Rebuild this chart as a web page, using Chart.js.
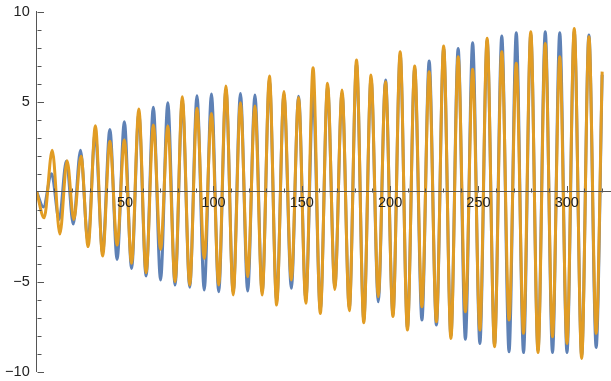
<!DOCTYPE html>
<html>
<head>
<meta charset="utf-8">
<script src="https://cdn.jsdelivr.net/npm/chart.js@4/dist/chart.umd.min.js"></script>
<style>
  html, body { margin: 0; padding: 0; background: #ffffff; }
  #c { display: block; }
</style>
</head>
<body>
<canvas id="c" width="611" height="381"></canvas>
<script>
// ---- values (extrema of each curve) ----
const blueX = [0, 3.8, 8.4, 12.7, 16.8, 20.7, 24.8, 29.0, 33.1, 37.3, 41.4, 45.5, 49.6, 53.7, 57.8, 61.9, 66.0, 70.1, 74.2, 78.3, 82.4, 86.6, 90.7, 94.8, 98.9, 103.0, 107.1, 111.2, 115.3, 119.4, 123.5, 127.6, 131.7, 135.8, 139.9, 144.1, 148.2, 152.3, 156.4, 160.5, 164.6, 168.7, 172.8, 176.9, 181.0, 185.1, 189.2, 193.3, 197.4, 201.6, 205.7, 209.8, 213.9, 218.0, 222.1, 226.2, 230.3, 234.4, 238.5, 242.6, 246.7, 250.8, 254.9, 259.1, 263.2, 267.3, 271.4, 275.5, 279.6, 283.7, 287.8, 291.9, 296.0, 300.1, 304.2, 308.4, 312.5, 316.6, 320.0];
const blueY = [0, -0.85, 1.00, -1.55, 1.70, -1.80, 2.30, -2.80, 3.25, -3.40, 3.46, -3.76, 3.89, -4.26, 4.35, -4.69, 4.69, -4.91, 4.94, -5.19, 5.05, -5.31, 5.33, -5.46, 5.43, -5.56, 5.70, -5.60, 5.46, -5.52, 5.37, -5.60, 6.20, -6.10, 5.40, -5.37, 5.30, -6.00, 5.50, -6.60, 5.85, -5.30, 5.50, -6.45, 7.10, -7.10, 6.30, -6.11, 6.20, -6.80, 7.60, -7.55, 6.85, -7.13, 7.26, -7.41, 7.95, -8.00, 7.96, -8.20, 8.28, -8.43, 8.40, -8.50, 8.65, -8.89, 8.83, -8.94, 8.75, -8.80, 8.89, -8.94, 8.83, -8.94, 8.90, -9.10, 8.70, -8.65, 6.50];
const orangeX = [0, 4.2, 8.8, 13.1, 17.2, 21.0, 25.1, 29.1, 33.2, 37.3, 41.4, 45.5, 49.6, 53.7, 57.8, 61.9, 66.0, 70.1, 74.2, 78.3, 82.4, 86.6, 90.7, 94.8, 98.9, 103.0, 107.1, 111.2, 115.3, 119.4, 123.5, 127.6, 131.7, 135.8, 139.9, 144.1, 148.2, 152.3, 156.4, 160.5, 164.6, 168.7, 172.8, 176.9, 181.0, 185.1, 189.2, 193.3, 197.4, 201.6, 205.7, 209.8, 213.9, 218.0, 222.1, 226.2, 230.3, 234.4, 238.5, 242.6, 246.7, 250.8, 254.9, 259.1, 263.2, 267.3, 271.4, 275.5, 279.6, 283.7, 287.8, 291.9, 296.0, 300.1, 304.2, 308.4, 312.5, 316.6, 320.0];
const orangeY = [0, -1.45, 2.30, -2.35, 1.72, -1.55, 1.97, -3.05, 3.67, -3.57, 2.80, -2.96, 2.87, -3.98, 4.59, -4.50, 3.70, -3.20, 3.65, -5.00, 5.28, -5.19, 4.63, -3.70, 4.35, -5.19, 5.87, -5.74, 4.94, -4.72, 4.76, -5.74, 6.43, -6.30, 5.56, -4.91, 5.24, -6.20, 6.89, -6.76, 6.02, -5.43, 5.65, -6.61, 7.31, -7.28, 6.48, -5.83, 6.11, -6.94, 7.78, -7.69, 6.98, -6.39, 6.67, -7.22, 8.09, -8.15, 7.50, -6.67, 6.80, -7.69, 8.52, -8.61, 7.78, -7.13, 7.13, -7.87, 8.89, -8.94, 8.24, -8.06, 7.50, -8.43, 9.07, -9.26, 8.61, -7.87, 6.67];

// ---- axis ticks / labels ----
const xTickValues = [10, 20, 30, 40, 50, 60, 70, 80, 90, 100, 110, 120, 130, 140, 150, 160, 170, 180, 190, 200, 210, 220, 230, 240, 250, 260, 270, 280, 290, 300, 310, 320];
const xLabelValues = [50, 100, 150, 200, 250, 300];
const yTickValues = [-10, -9, -8, -7, -6, -5, -4, -3, -2, -1, 1, 2, 3, 4, 5, 6, 7, 8, 9, 10];
const yLabelValues = [-10, -5, 5, 10];

const BLUE = '#5E81B5';
const ORANGE = '#E19C24';
const AXIS = '#555555';
const LABEL = '#222222';

function pts(xs, ys) { return xs.map((x, i) => ({ x: x, y: ys[i] })); }

const tickMarks = {
  id: 'tickMarks',
  afterDraw(chart) {
    const { ctx, scales: { x, y } } = chart;
    const x0 = x.getPixelForValue(0);
    const y0 = Math.round(y.getPixelForValue(0)) + 0.5;
    const xa = Math.round(x0) + 0.5;
    ctx.save();
    ctx.strokeStyle = AXIS;
    ctx.lineWidth = 1;
    ctx.beginPath();
    xTickValues.forEach(v => {
      const px = Math.round(x.getPixelForValue(v)) + 0.5;
      const len = xLabelValues.includes(v) ? 6.5 : 4;
      ctx.moveTo(px, y0);
      ctx.lineTo(px, y0 - len);
    });
    yTickValues.forEach(v => {
      const py = Math.round(y.getPixelForValue(v)) + 0.5;
      const len = yLabelValues.includes(v) ? 6.5 : 4;
      ctx.moveTo(xa, py);
      ctx.lineTo(xa + len, py);
    });
    ctx.stroke();
    ctx.restore();
  }
};

Chart.defaults.font.family = '"Liberation Sans", Arial, sans-serif';
Chart.defaults.font.size = 14.5;

new Chart(document.getElementById('c'), {
  type: 'line',
  data: {
    datasets: [
      { data: pts(blueX, blueY), borderColor: BLUE, borderWidth: 3, pointRadius: 0,
        cubicInterpolationMode: 'monotone', fill: false, order: 1 },
      { data: pts(orangeX, orangeY), borderColor: ORANGE, borderWidth: 3, pointRadius: 0,
        cubicInterpolationMode: 'monotone', fill: false, order: 0 }
    ]
  },
  options: {
    responsive: false,
    animation: false,
    devicePixelRatio: 1,
    layout: { padding: { left: 0, right: 0, top: 11.7, bottom: 9.3 } },
    plugins: { legend: { display: false }, tooltip: { enabled: false } },
    scales: {
      x: {
        type: 'linear',
        position: { y: 0 },
        min: 0,
        max: 325,
        afterFit: s => { s.paddingLeft = 0; s.paddingRight = 0; },
        grid: { display: false, drawTicks: false },
        border: { display: true, color: AXIS, width: 1, z: 1 },
        ticks: {
          z: 1,
          stepSize: 10,
          autoSkip: false,
          maxRotation: 0,
          padding: 2.4,
          color: LABEL,
          callback: v => xLabelValues.includes(v) ? String(v) : ''
        }
      },
      y: {
        type: 'linear',
        position: 'left',
        min: -10,
        max: 10,
        afterFit: s => { s.width = 36.7; s.paddingTop = 0; s.paddingBottom = 0; },
        grid: { display: false, drawTicks: false },
        border: { display: true, color: AXIS, width: 1, z: 1 },
        ticks: {
          z: 1,
          stepSize: 1,
          autoSkip: false,
          padding: 7,
          color: LABEL,
          callback: v => yLabelValues.includes(v) ? (v < 0 ? '\u2212' + Math.abs(v) : String(v)) : ''
        }
      }
    }
  },
  plugins: [tickMarks]
});
</script>
</body>
</html>
